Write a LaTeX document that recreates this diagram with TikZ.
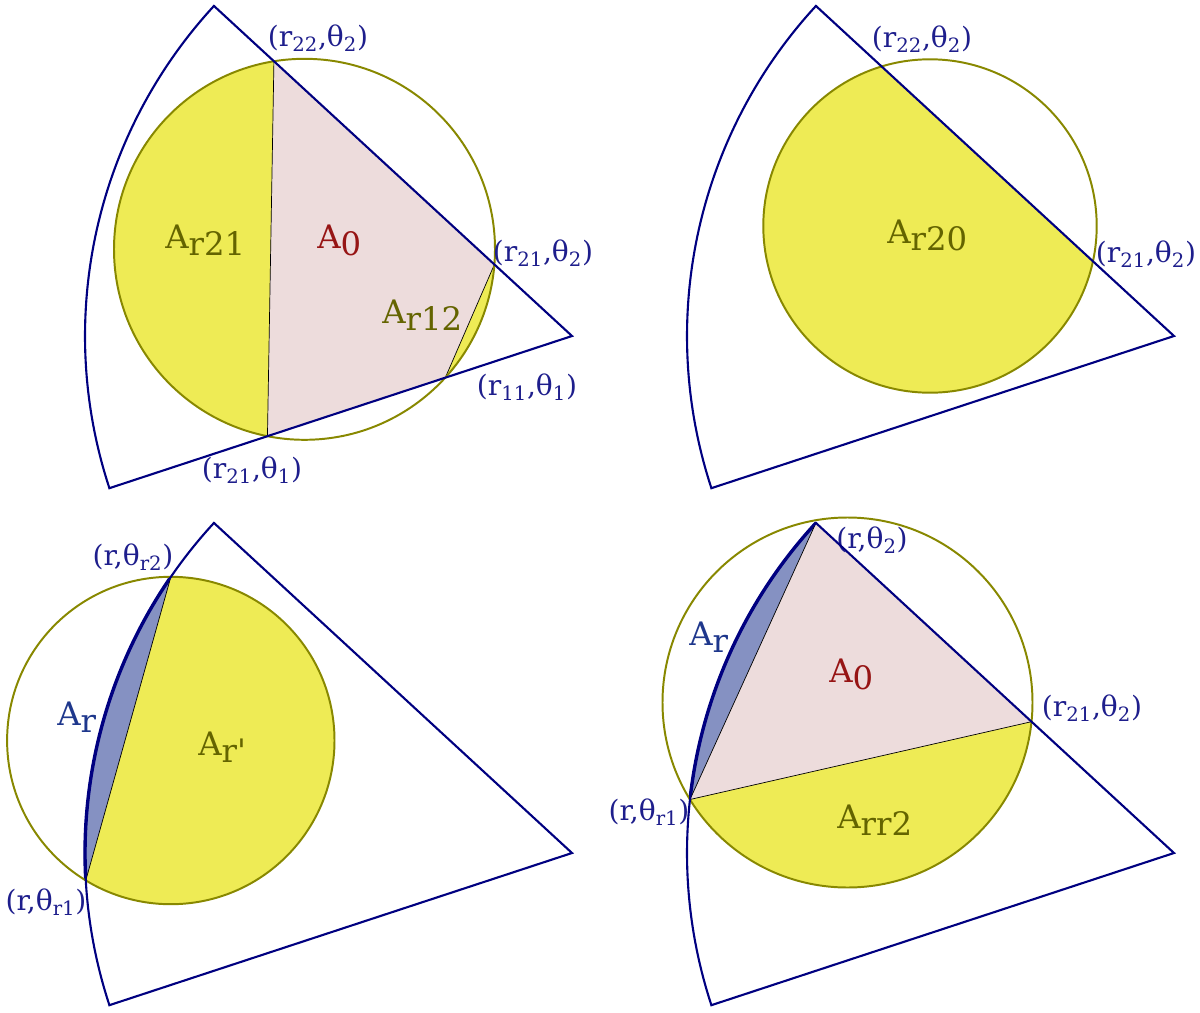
\documentclass[tikz,border=0pt]{standalone}
\usepackage{fontspec}
\setmainfont{DejaVu Serif}
\usetikzlibrary{intersections,calc}

\definecolor{rimblue}{RGB}{0,0,128}
\definecolor{ringolive}{RGB}{136,136,0}
\definecolor{segyellow}{RGB}{238,235,85}
\definecolor{polypink}{RGB}{237,220,220}
\definecolor{lensblue}{RGB}{133,145,194}
\definecolor{lblblue}{RGB}{30,30,140}
\definecolor{lblred}{RGB}{150,20,20}
\definecolor{lblolive}{RGB}{100,100,0}
\definecolor{lblroyal}{RGB}{30,55,140}

% polar cell: corner at (572,336), radius 487
\newcommand{\sectorpath}{(572,336) -- ++(222.67:487) arc[start angle=222.67,end angle=161.79,radius=487] -- cycle}
\newcommand{\arcpath}{(572,336) ++(222.67:487) arc[start angle=222.67,end angle=161.79,radius=487]}
% half plane left of the chord #1 (upper) -- #2 (lower)
\newcommand{\leftof}[2]{($(#2)!2!(#1)$) -- ($(#1)!2!(#2)$) -- ($(#1)!2!(#2)+(-300,0)$) -- ($(#2)!2!(#1)+(-300,0)$) -- cycle}
\newcommand{\dn}[1]{\raisebox{-0.22em}{#1}}

\tikzset{
  rim/.style={draw=rimblue, line width=1.5pt},
  ring/.style={draw=ringolive, line width=1.4pt},
  chord/.style={draw=black, line width=0.5pt},
  coordlbl/.style={text=lblblue, font=\fontsize{20}{24}\selectfont, inner sep=0pt},
  arealbl/.style={font=\fontsize{23}{27}\selectfont, inner sep=0pt, anchor=base west}
}

\begin{document}
\begin{tikzpicture}[x=0.25mm,y=-0.25mm]
  \useasboundingbox (0,0) rectangle (1200,1013);

  % top left
  \begin{scope}
    \path[name path=up1] (572,336) -- ++(222.67:487);
    \path[name path=lo1] (572,336) -- ++(161.79:487);
    \path[name path=c1] (304.5,249.3) circle[radius=190.5];
    \path[name intersections={of=up1 and c1, sort by=up1, by={u21,u22}}];
    \path[name intersections={of=lo1 and c1, sort by=lo1, by={l11,l21}}];
    \begin{scope}
      \clip \sectorpath;
      \fill[segyellow] (304.5,249.3) circle[radius=190.5];
    \end{scope}
    \fill[polypink] (u22) -- (u21) -- (l11) -- (l21) -- cycle;
    \draw[chord] (u22) -- (l21) (u21) -- (l11);
    \draw[ring] (304.5,249.3) circle[radius=190.5];
    \node[coordlbl] (ar22t2) at (318,38) {(r\textsubscript{22},θ\textsubscript{2})};
    \node[coordlbl] (ar21t2) at (543,253) {(r\textsubscript{21},θ\textsubscript{2})};
    \node[coordlbl] (ar11t1) at (527,387) {(r\textsubscript{11},θ\textsubscript{1})};
    \node[coordlbl] (ar21t1) at (252,470) {(r\textsubscript{21},θ\textsubscript{1})};
    \node[arealbl, text=lblolive] (aAr21) at (165,248) {A\dn{r21}};
    \node[arealbl, text=lblred] (aA0) at (317,248) {A\dn{0}};
    \node[arealbl, text=lblolive] (aAr12) at (382,323) {A\dn{r12}};
  \end{scope}

  % top right
  \begin{scope}[shift={(602,0)}]
    \path[name path=up2] (572,336) -- ++(222.67:487);
    \path[name path=c2] (328,226) circle[radius=166.7];
    \path[name intersections={of=up2 and c2, sort by=up2, by={v21,v22}}];
    \begin{scope}
      \clip \sectorpath;
      \fill[segyellow] (328,226) circle[radius=166.7];
    \end{scope}
    \draw[ring] (328,226) circle[radius=166.7];
    \node[coordlbl] (br22t2) at (320,39) {(r\textsubscript{22},θ\textsubscript{2})};
    \node[coordlbl] (br21t2) at (544,254) {(r\textsubscript{21},θ\textsubscript{2})};
    \node[arealbl, text=lblolive] (bAr20) at (285,243) {A\dn{r20}};
  \end{scope}

  % bottom left
  \begin{scope}[shift={(0,517)}]
    \path[name path=arc3] \arcpath;
    \path[name path=c3] (170.8,223.5) circle[radius=163.7];
    \path[name intersections={of=arc3 and c3, sort by=arc3, by={t2,t1}}];
    \begin{scope}
      \clip \sectorpath;
      \fill[segyellow] (170.8,223.5) circle[radius=163.7];
      \clip (170.8,223.5) circle[radius=163.7];
      \fill[lensblue] \leftof{t2}{t1};
    \end{scope}
    \begin{scope}
      \clip (170.8,223.5) circle[radius=163.7];
      \clip \leftof{t2}{t1};
      \draw[rim, line width=2.4pt] \arcpath;
    \end{scope}
    \draw[chord] (t2) -- (t1);
    \draw[ring] (170.8,223.5) circle[radius=163.7];
    \node[coordlbl] (crtr2) at (133,40) {(r,θ\textsubscript{r2})};
    \node[coordlbl] (crtr1) at (46,385) {(r,θ\textsubscript{r1})};
    \node[arealbl, text=lblroyal] (cAr) at (57,208) {A\dn{r}};
    \node[arealbl, text=lblolive] (cArp) at (198,238) {A\dn{r\textquotesingle}};
  \end{scope}

  % bottom right
  \begin{scope}[shift={(602,517)}]
    \path (572,336) ++(222.67:487) coordinate (top4);
    \path[name path=up4] (572,336) -- ++(222.67:487);
    \path[name path=arc4] \arcpath;
    \path[name path=c4] (245.5,185.5) circle[radius=185];
    \path[name intersections={of=up4 and c4, by={w21}}];
    \path[name intersections={of=arc4 and c4, by={s1}}];
    \begin{scope}
      \clip \sectorpath;
      \fill[segyellow] (245.5,185.5) circle[radius=185];
      \fill[polypink] (top4) -- (w21) -- (s1) -- cycle;
      \clip (245.5,185.5) circle[radius=185];
      \fill[lensblue] \leftof{top4}{s1};
    \end{scope}
    \begin{scope}
      \clip (245.5,185.5) circle[radius=185];
      \clip \leftof{top4}{s1};
      \draw[rim, line width=2.4pt] \arcpath;
    \end{scope}
    \draw[chord] (top4) -- (s1) -- (w21);
    \draw[ring] (245.5,185.5) circle[radius=185];
    \node[coordlbl] (drt2) at (270,23) {(r,θ\textsubscript{2})};
    \node[coordlbl] (dr21t2) at (490,191) {(r\textsubscript{21},θ\textsubscript{2})};
    \node[coordlbl] (drtr1) at (47,295) {(r,θ\textsubscript{r1})};
    \node[arealbl, text=lblroyal] (dAr) at (87,128) {A\dn{r}};
    \node[arealbl, text=lblred] (dA0) at (227,165) {A\dn{0}};
    \node[arealbl, text=lblolive] (dArr2) at (235,311) {A\dn{rr2}};
  \end{scope}

  % cell outlines
  \foreach \dx/\dy in {0/0, 602/0, 0/517, 602/517}
    \draw[rim, shift={(\dx,\dy)}] \sectorpath;
\end{tikzpicture}
\end{document}
